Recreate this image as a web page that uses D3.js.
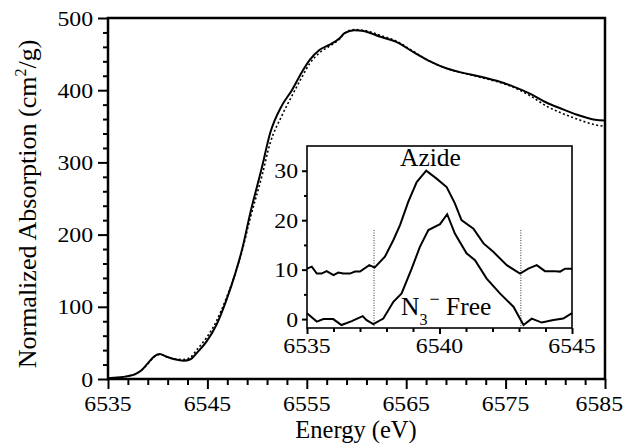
<!DOCTYPE html>
<html><head><meta charset="utf-8">
<script src="https://cdn.jsdelivr.net/npm/d3@7"></script>
<style>
body{margin:0;background:#fff}
svg{display:block}
svg text{font-family:'Liberation Serif', serif;fill:#000}
</style>
</head><body>
<svg id="c" width="624" height="443" font-family="Liberation Serif"></svg>
<script>
// ---- main spectrum (Energy eV / Normalized Absorption cm^2/g)
const energy = [6535, 6536, 6537, 6537.7, 6538.4, 6539, 6539.7, 6540.2, 6540.9, 6541.7, 6542.6, 6543.3, 6543.9, 6544.9, 6545.9, 6546.9, 6547.8, 6548.5, 6549.3, 6550.5, 6551.3, 6552.5, 6553.5, 6554.5, 6555.3, 6556.3, 6557.3, 6558.3, 6558.8, 6559.8, 6560.7, 6562.4, 6564, 6565.7, 6567.4, 6569.1, 6570.7, 6572.4, 6574.1, 6575.8, 6577.5, 6579.1, 6580.5, 6582.2, 6584, 6585];
const solidAbs = [1, 2, 4, 6.5, 12.5, 21.7, 31.9, 34.6, 30.9, 27.3, 25.3, 27.3, 35.6, 51.7, 74.8, 109, 146, 180, 229, 294, 340, 379, 400, 425, 442, 456, 463, 472, 479, 483, 482, 474, 467, 453, 440, 430, 424, 419, 413, 405, 395, 383, 375, 366, 359, 358];
const dottedAbs = [1, 2, 4, 6.5, 12.5, 21, 31, 34, 31, 28, 27, 30, 40, 57, 80, 112, 146, 178, 222, 282, 326, 365, 392, 418, 437, 452, 461, 471, 479, 484, 483, 476, 468, 454, 440, 430, 424, 418, 412, 404, 392, 378, 369, 360, 352, 350];
const mainXTicks = [6535, 6545, 6555, 6565, 6575, 6585];
const mainYTicks = [0, 100, 200, 300, 400, 500];

// ---- inset (difference spectra)
const azideEnergy = [6535.0, 6535.18, 6535.37, 6535.55, 6535.74, 6536.0, 6536.18, 6536.37, 6536.62, 6536.81, 6537.0, 6537.35, 6537.55, 6537.94, 6538.26, 6538.51, 6538.82, 6539.14, 6539.5, 6539.89, 6540.27, 6540.58, 6540.83, 6541.28, 6541.66, 6542.03, 6542.54, 6543.04, 6543.35, 6543.67, 6543.98, 6544.3, 6544.55, 6544.74, 6545.0];
const azide = [10.2, 10.6, 9.2, 9.2, 9.7, 8.9, 9.4, 9.2, 9.2, 9.6, 9.6, 10.9, 10.4, 12.6, 16.0, 19.0, 23.7, 27.7, 30.0, 28.4, 26.7, 23.4, 20.0, 18.3, 15.3, 13.6, 10.9, 9.2, 10.2, 10.9, 9.7, 9.7, 9.6, 10.2, 10.2];
const freeEnergy = [6535.0, 6535.37, 6535.62, 6535.99, 6536.3, 6536.69, 6537.1, 6537.25, 6537.5, 6537.88, 6538.26, 6538.57, 6538.95, 6539.26, 6539.58, 6540.02, 6540.29, 6540.58, 6541.02, 6541.34, 6541.78, 6542.28, 6542.79, 6543.17, 6543.48, 6543.86, 6544.3, 6544.67, 6545.0];
const n3Free = [1.2, -0.5, 0.0, 0.0, -1.2, -0.4, 0.6, -0.2, -1.0, 0.1, 3.5, 5.2, 10.2, 14.6, 18.0, 19.2, 21.2, 17.3, 13.3, 11.9, 8.2, 5.2, 2.5, -1.2, 0.1, -0.7, -0.2, 0.1, 1.2];
const insetXTicks = [6535, 6540, 6545];
const insetYTicks = [0, 10, 20, 30];
const markerEnergies = [6537.53, 6543.07];

const svg = d3.select("#c");
const FONT = "'Liberation Serif', serif";
const NUM = 22, SX = 1.08, W = 624;

// scales
const x = d3.scaleLinear().domain([6535, 6585]).range([108, 605]);
const y = d3.scaleLinear().domain([0, 500]).range([379, 18]);
const ix = d3.scaleLinear().domain([6535, 6545]).range([307, 572]);
const iy = d3.scaleLinear().domain([-1.8, 35]).range([328, 146]);

// ---- main curves
const line = (arr) => d3.line().x((d, i) => x(energy[i])).y(d => y(d)).curve(d3.curveMonotoneX)(arr);
svg.append("path").attr("d", line(dottedAbs)).attr("fill", "none").attr("stroke", "#000")
  .attr("stroke-width", 1.6).attr("stroke-dasharray", "2,2.4");
svg.append("path").attr("d", line(solidAbs)).attr("fill", "none").attr("stroke", "#000")
  .attr("stroke-width", 2);

// ---- main axes ticks
function ticks(g, axis) { g.call(axis); g.select(".domain").remove(); g.selectAll("line").attr("stroke", "#000").attr("stroke-width", 2); }
const xMinor = d3.range(6535, 6586, 2).filter(v => !mainXTicks.includes(v));
const yMinor = d3.range(0, 501, 20).filter(v => !mainYTicks.includes(v));
svg.append("g").attr("transform", "translate(0,379)").call(g => ticks(g, d3.axisBottom(x).tickValues(xMinor).tickSize(6).tickFormat("")));
svg.append("g").attr("transform", "translate(0,379)").call(g => ticks(g, d3.axisBottom(x).tickValues(mainXTicks).tickSize(10).tickFormat("")));
svg.append("g").attr("transform", "translate(108,0)").call(g => ticks(g, d3.axisLeft(y).tickValues(yMinor).tickSize(5).tickFormat("")));
svg.append("g").attr("transform", "translate(108,0)").call(g => ticks(g, d3.axisLeft(y).tickValues(mainYTicks).tickSize(10).tickFormat("")));

function numLabel(px, py, txt, anchor) {
  const g = svg.append("g").attr("transform", `translate(${px},${py}) scale(${SX},1)`);
  const t = g.append("text").attr("font-family", FONT).attr("text-anchor", anchor).attr("font-size", NUM).text(txt);
  if (anchor === "middle") {
    const half = t.node().getComputedTextLength() * SX / 2;
    if (px + half > W - 1) g.attr("transform", `translate(${W - 1 - half},${py}) scale(${SX},1)`);
  }
}
mainXTicks.forEach(v => numLabel(x(v), 411, v, "middle"));
mainYTicks.forEach(v => numLabel(93, y(v) + 7.5, v, "end"));

// frame
svg.append("rect").attr("x", 108).attr("y", 18).attr("width", 605 - 108).attr("height", 379 - 18)
  .attr("fill", "none").attr("stroke", "#000").attr("stroke-width", 2.5);

// axis titles
svg.append("text").attr("font-family", FONT).attr("x", 356).attr("y", 438).attr("text-anchor", "middle").attr("font-size", 24.5).text("Energy (eV)");
const yt = svg.append("text").attr("font-family", FONT).attr("transform", "translate(36,204) rotate(-90)").attr("text-anchor", "middle").attr("font-size", 26);
yt.append("tspan").text("Normalized Absorption (cm");
yt.append("tspan").attr("font-size", 16).attr("dy", -10).text("2");
yt.append("tspan").attr("dy", 10).text("/g)");

// ---- inset
svg.append("rect").attr("x", 307).attr("y", 146).attr("width", 572 - 307).attr("height", 328 - 146).attr("fill", "#fff");
markerEnergies.forEach(e => {
  svg.append("line").attr("x1", ix(e)).attr("x2", ix(e)).attr("y1", iy(18)).attr("y2", 328)
    .attr("stroke", "#333").attr("stroke-width", 1).attr("stroke-dasharray", "1,1.5");
});
const iline = (xs, vs) => d3.line().x((d, i) => ix(xs[i])).y(d => iy(d))(vs);
svg.append("path").attr("d", iline(azideEnergy, azide)).attr("fill", "none").attr("stroke", "#000").attr("stroke-width", 2);
svg.append("path").attr("d", iline(freeEnergy, n3Free)).attr("fill", "none").attr("stroke", "#000").attr("stroke-width", 2);

const ixMinor = d3.range(6536, 6545, 1).filter(v => !insetXTicks.includes(v));
const iyMinor = [5, 15, 25];
svg.append("g").attr("transform", "translate(0,328)").call(g => ticks(g, d3.axisBottom(ix).tickValues(ixMinor).tickSize(4).tickFormat("")));
svg.append("g").attr("transform", "translate(0,328)").call(g => ticks(g, d3.axisBottom(ix).tickValues(insetXTicks).tickSize(6).tickFormat("")));
svg.append("g").attr("transform", "translate(307,0)").call(g => ticks(g, d3.axisLeft(iy).tickValues(iyMinor).tickSize(3).tickFormat("")));
svg.append("g").attr("transform", "translate(307,0)").call(g => ticks(g, d3.axisLeft(iy).tickValues(insetYTicks).tickSize(5).tickFormat("")));
insetXTicks.forEach(v => numLabel(ix(v), 353, v, "middle"));
insetYTicks.forEach(v => numLabel(298, iy(v) + 7.5, v, "end"));
svg.append("rect").attr("x", 307).attr("y", 146).attr("width", 572 - 307).attr("height", 328 - 146)
  .attr("fill", "none").attr("stroke", "#000").attr("stroke-width", 1.6);

// inset labels
svg.append("text").attr("font-family", FONT).attr("x", 430.5).attr("y", 165.5).attr("text-anchor", "middle").attr("font-size", 25.5).text("Azide");
const fl = svg.append("text").attr("font-family", FONT).attr("x", 401).attr("y", 315).attr("font-size", 25.5);
fl.append("tspan").text("N");
fl.append("tspan").attr("font-size", 16).attr("dy", 10).text("3");
fl.append("tspan").attr("font-size", 18).attr("dx", 2).attr("dy", -20).text("\u2212");
fl.append("tspan").attr("dy", 10).text(" Free");
</script>
</body></html>
